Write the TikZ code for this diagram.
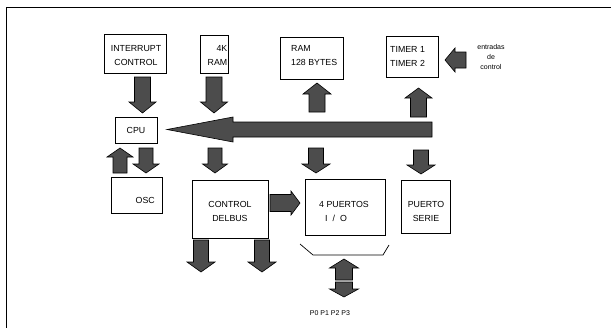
\documentclass[tikz,border=0pt]{standalone}
\usepackage{fontspec}
\setmainfont{Liberation Sans}
\begin{document}
\begin{tikzpicture}[x=1pt,y=-1pt,
  box/.style={draw=black,line width=0.8pt,inner sep=0pt},
  lbl/.style={font=\fontsize{8.8}{10}\selectfont,inner sep=0pt,align=center},
  blk/.style={draw=black,line width=0.6pt,fill=black!70}]
\useasboundingbox (0,0) rectangle (611,327);
% frame
\draw[line width=0.8pt] (6,330) -- (6,7) -- (615,7);
% vertical block arrow: x, tail, head base, tip, half shaft, half head
\newcommand\varrow[6]{\filldraw[blk] (#1-#5,#2) -- (#1+#5,#2) -- (#1+#5,#3) -- (#1+#6,#3) -- (#1,#4) -- (#1-#6,#3) -- (#1-#5,#3) -- cycle;}
% horizontal block arrow: y, tail, head base, tip, half shaft, half head
\newcommand\harrow[6]{\filldraw[blk] (#2,#1-#5) -- (#2,#1+#5) -- (#3,#1+#5) -- (#3,#1+#6) -- (#4,#1) -- (#3,#1-#6) -- (#3,#1-#5) -- cycle;}
% boxes
\node[box,minimum width=62,minimum height=39] (int) at (135.5,53.5) {};
\node[box,minimum width=28,minimum height=38] (rom) at (214,54.5) {};
\node[box,minimum width=63,minimum height=42] (ram) at (312,58) {};
\node[box,minimum width=52,minimum height=41] (tim) at (412,56.5) {};
\node[box,minimum width=42,minimum height=26] (cpu) at (136,130) {};
\node[box,minimum width=51,minimum height=36] (osc) at (136.5,195) {};
\node[box,minimum width=76,minimum height=58] (cbus) at (230,209) {};
\node[box,minimum width=80,minimum height=56] (io) at (345,207) {};
\node[box,minimum width=49,minimum height=53] (ser) at (425.5,206.5) {};
% texts
\node[lbl] (tint) at (136,55.5) {INTERRUPT\\[4pt]CONTROL};
\node[lbl,anchor=east,align=right] (trom) at (227.5,55.5) {4K\\[4pt]RAM};
\node[lbl,anchor=west,align=left] (tram) at (291,55.5) {RAM\\[4pt]128 BYTES};
\node[lbl,anchor=west,align=left] (ttim) at (390,56) {TIMER 1\\[4pt]TIMER 2};
\node[lbl,font=\fontsize{7}{10}\selectfont] (tent) at (491,57) {entradas\\de\\control};
\node[lbl] (tcpu) at (136,130) {CPU};
\node[lbl,anchor=east] (tosc) at (155,200) {OSC};
\node[lbl] (tcb) at (230,211) {CONTROL\\[4pt]DELBUS};
\node[lbl,anchor=west,align=left] (tio) at (319,211) {4 PUERTOS\\[4pt]\hspace{6pt}I\hspace{5pt}/\hspace{5pt}O};
\node[lbl] (tser) at (426,211) {PUERTO\\[4pt]SERIE};
\node[lbl,font=\fontsize{7}{8}\selectfont] (tp) at (330,313) {P0 P1 P2 P3};
% big bus arrow
\filldraw[blk] (432,122) -- (432,137) -- (233,137) -- (233,142) -- (167,129.5) -- (233,117) -- (233,122) -- cycle;
% vertical arrows
\varrow{142.5}{77}{102}{113}{8}{13.5}
\varrow{214}{77}{102}{113}{8}{13.5}
\varrow{317}{112}{94}{83}{8}{14}
\varrow{418.5}{117}{98}{88}{8}{13.5}
\varrow{120}{173}{157}{148}{7}{13}
\varrow{146}{148}{164}{173}{7}{13}
\varrow{215}{148}{164}{173}{7}{12.5}
\varrow{316}{148}{164}{173}{7.5}{14}
\varrow{421}{150}{165}{174}{7.5}{14}
\varrow{201}{240}{262}{272}{7.5}{14}
\varrow{262}{240}{262}{272}{7.5}{14}
\varrow{344}{280}{268}{259}{8.5}{14.5}
\varrow{344}{282}{289}{297}{8.5}{14.5}
% horizontal arrows
\harrow{203}{270}{291}{300}{8.5}{12}
\harrow{60}{466}{455}{445}{8}{12}
% bracket
\draw[line width=0.7pt] (300,244) -- (313,255) -- (383,255) -- (389,245);
\end{tikzpicture}
\end{document}
